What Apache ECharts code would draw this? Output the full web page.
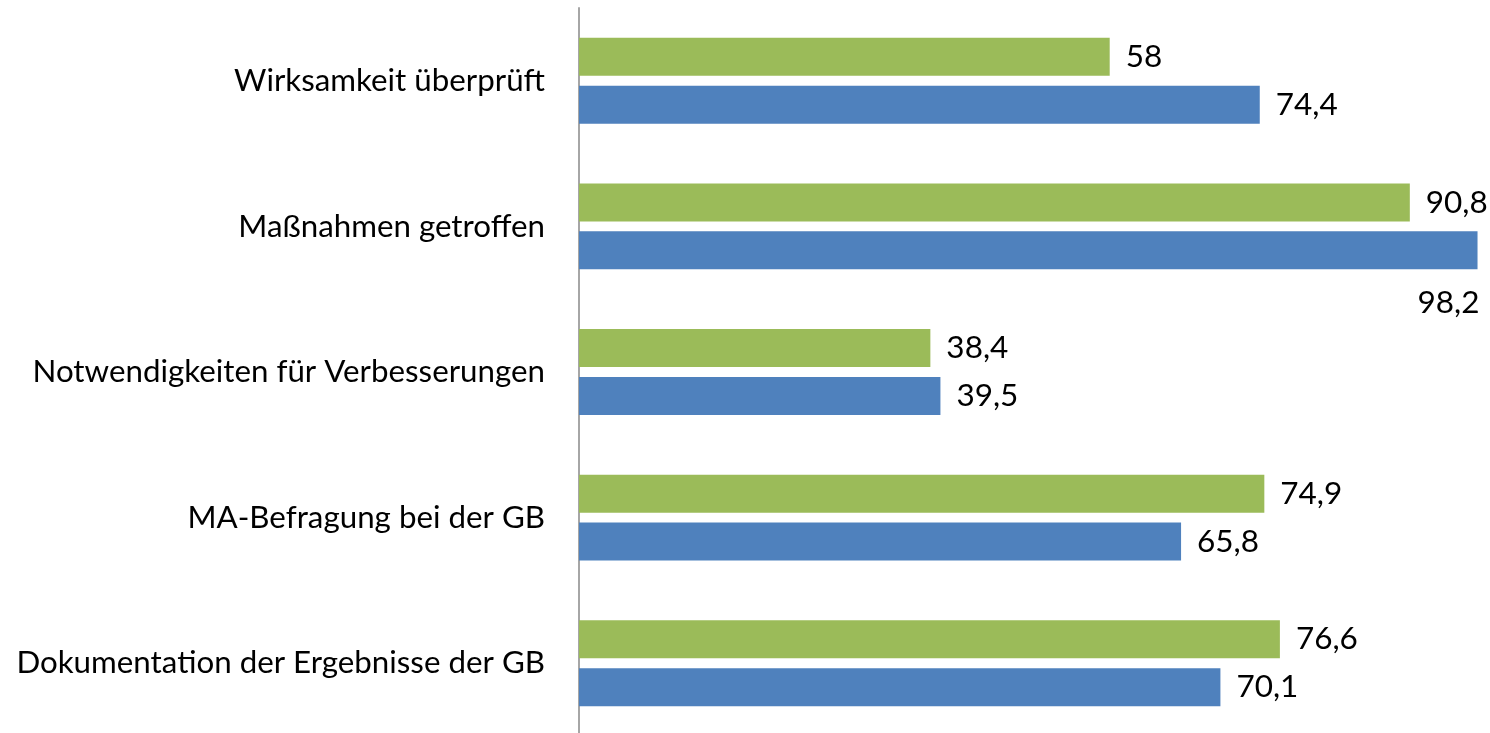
<!DOCTYPE html>
<html>
<head>
<meta charset="utf-8">
<script src="https://cdn.jsdelivr.net/npm/echarts@6/dist/echarts.min.js"></script>
<style>
  html, body { margin: 0; padding: 0; background: #fff; }
  #main { width: 1490px; height: 733px; }
</style>
</head>
<body>
<div id="main"></div>
<script>
var categories = [
  'Wirksamkeit überprüft',
  'Maßnahmen getroffen',
  'Notwendigkeiten für Verbesserungen',
  'MA-Befragung bei der GB',
  'Dokumentation der Ergebnisse der GB'
];
var greenValues = [58, 90.8, 38.4, 74.9, 76.6];
var blueValues = [74.4, 98.2, 39.5, 65.8, 70.1];

var fontFamily = 'Lato, "Open Sans", sans-serif';

var chartDom = document.getElementById('main');
var myChart = echarts.init(chartDom);
var option;

function fmt(p) {
  return String(p.value).replace('.', ',');
}

var labelStyle = {
  show: true,
  position: 'right',
  distance: 16,
  color: '#000',
  fontSize: 31.5,
  fontFamily: fontFamily,
  formatter: fmt
};

// the largest bar carries its label underneath, right-aligned
var blueData = blueValues.map(function (v) {
  if (v === Math.max.apply(null, blueValues)) {
    return {
      value: v,
      label: { position: 'insideBottomRight', distance: 0, offset: [2, 50] }
    };
  }
  return v;
});

option = {
  animation: false,
  grid: {
    left: 579,
    top: 8,
    width: 915,
    height: 728,
    outerBoundsMode: 'none'
  },
  xAxis: {
    type: 'value',
    min: 0,
    max: 100,
    show: false
  },
  yAxis: {
    type: 'category',
    inverse: true,
    data: categories,
    axisTick: { show: false },
    axisLine: { lineStyle: { color: '#a6a6a6', width: 2 } },
    axisLabel: {
      margin: 34,
      color: '#000',
      fontSize: 31.3,
      fontFamily: fontFamily
    }
  },
  series: [
    {
      type: 'bar',
      data: greenValues,
      barWidth: 38,
      barGap: '26%',
      itemStyle: { color: '#9bbb59' },
      label: labelStyle
    },
    {
      type: 'bar',
      data: blueData,
      barWidth: 38,
      barGap: '26%',
      itemStyle: { color: '#4f81bd' },
      label: labelStyle
    }
  ]
};

option && myChart.setOption(option);
</script>
</body>
</html>
